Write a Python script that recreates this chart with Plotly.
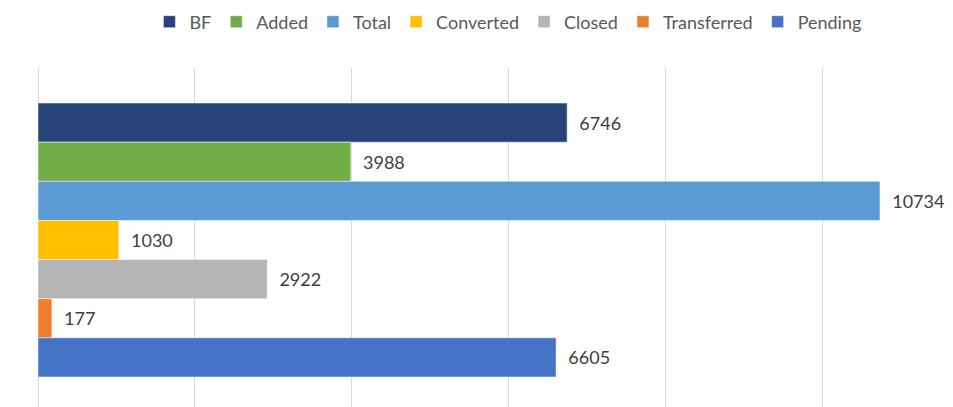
import plotly.graph_objects as go

series = ["BF", "Added", "Total", "Converted", "Closed", "Transferred", "Pending"]
values = [6746, 3988, 10734, 1030, 2922, 177, 6605]
colors = ["#264478", "#70AD47", "#5B9BD5", "#FFC000", "#B4B4B4", "#ED7D31", "#4472C4"]
category = [""]

fig = go.Figure()
for name, val, col in zip(series, values, colors):
    fig.add_trace(go.Bar(
        name=name, x=[val], y=category, orientation="h",
        marker=dict(color=col, line=dict(color="white", width=0.5)),
        text=[str(val)], texttemplate="\u00a0\u00a0%{text}", textposition="outside",
        textfont=dict(family="Lato", size=18, color="#404040"),
        cliponaxis=False,
    ))

fig.update_layout(
    width=945, height=399,
    margin=dict(l=30, r=0, t=60, b=0, autoexpand=False),
    paper_bgcolor="white", plot_bgcolor="white",
    barmode="group", bargap=0.192, bargroupgap=0,
    showlegend=True,
    legend=dict(orientation="h", xref="container", yref="container",
                x=0.529, xanchor="center", y=0.965, yanchor="middle",
                font=dict(family="Lato", size=18, color="#595959"),
                traceorder="normal", itemwidth=30),
    xaxis=dict(range=[0, 11665], showticklabels=False, showgrid=True, gridcolor="#D9D9D9",
               gridwidth=1, dtick=2000, zeroline=True, zerolinecolor="#D9D9D9", zerolinewidth=1,
               showline=False, ticks=""),
    yaxis=dict(range=[0.4926, -0.5074], showticklabels=False, showgrid=False, zeroline=False,
               showline=False, ticks=""),
)

fig.write_html("out.html")
